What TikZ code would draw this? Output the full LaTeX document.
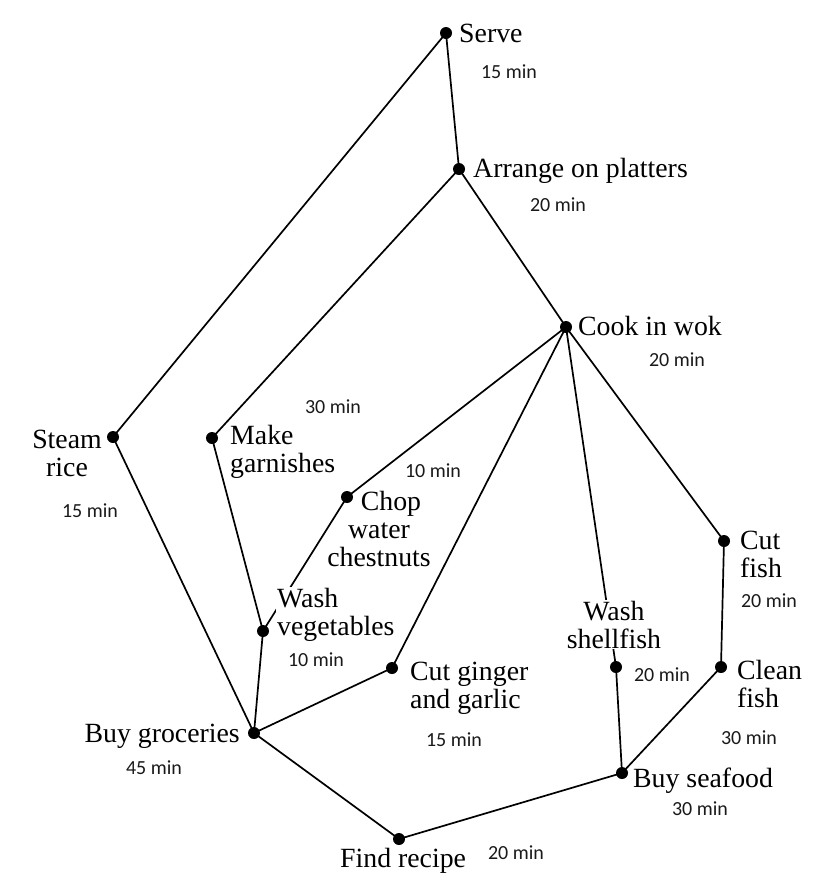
\documentclass[tikz,border=0pt]{standalone}
\usepackage{fontspec}
\setmainfont{Liberation Serif}
\newfontfamily\minfont{Carlito}
\begin{document}
\begin{tikzpicture}[x=1pt,y=-1pt,
  dot/.style={circle,fill=black,inner sep=0pt,minimum size=12pt},
  edge/.style={line width=1.7pt,black},
  lbl/.style={inner sep=0pt,font=\fontsize{27.8}{28}\selectfont},
  wlbl/.style={lbl,fill=white,inner sep=1pt},
  mins/.style={inner sep=0pt,font=\minfont\fontsize{20}{22}\selectfont,text=black!90}]
\useasboundingbox (0,0) rectangle (836,884);
% dots
\node[dot] (serve) at (446,33) {};
\node[dot] (arrange) at (459,169) {};
\node[dot] (cook) at (566,327) {};
\node[dot] (steam) at (113,437) {};
\node[dot] (garnish) at (212,438) {};
\node[dot] (chop) at (347,497) {};
\node[dot] (washveg) at (263,631) {};
\node[dot] (ginger) at (392,668) {};
\node[dot] (groceries) at (254,733) {};
\node[dot] (cutfish) at (724,541) {};
\node[dot] (cleanfish) at (721,667) {};
\node[dot] (shellfish) at (616,667) {};
\node[dot] (seafood) at (622,773) {};
\node[dot] (recipe) at (399,839) {};
% edges
\draw[edge] (serve.center) -- (arrange.center);
\draw[edge] (serve.center) -- (steam.center);
\draw[edge] (arrange.center) -- (cook.center);
\draw[edge] (arrange.center) -- (garnish.center);
\draw[edge] (cook.center) -- (chop.center);
\draw[edge] (cook.center) -- (ginger.center);
\draw[edge] (cook.center) -- (shellfish.center);
\draw[edge] (cook.center) -- (cutfish.center);
\draw[edge] (steam.center) -- (groceries.center);
\draw[edge] (garnish.center) -- (washveg.center);
\draw[edge] (chop.center) -- (washveg.center);
\draw[edge] (washveg.center) -- (groceries.center);
\draw[edge] (ginger.center) -- (groceries.center);
\draw[edge] (groceries.center) -- (recipe.center);
\draw[edge] (cutfish.center) -- (cleanfish.center);
\draw[edge] (cleanfish.center) -- (seafood.center);
\draw[edge] (shellfish.center) -- (seafood.center);
\draw[edge] (seafood.center) -- (recipe.center);
% labels (multi-line nodes: base = baseline of last line)
\node[lbl,anchor=base west] (lserve) at (459,42) {Serve};
\node[lbl,anchor=base west] (larrange) at (473,177) {Arrange on platters};
\node[lbl,anchor=base west] (lcook) at (578,335) {Cook in wok};
\node[lbl,anchor=base,align=center] (lsteam) at (67,476) {Steam\\rice};
\node[lbl,anchor=base west,align=left] (lgarnish) at (230,472) {Make\\garnishes};
\node[lbl,anchor=base,align=center] (lchop) at (379,566) {\hspace*{24pt}Chop\\water\\chestnuts};
\node[wlbl,anchor=base west,align=left] (lwashveg) at (276,635) {Wash\\vegetables};
\node[lbl,anchor=base west,align=left] (lginger) at (410,708) {Cut ginger\\and garlic};
\node[lbl,anchor=base east] (lgroceries) at (240,742) {Buy groceries};
\node[lbl,anchor=base west,align=left] (lcutfish) at (740,577) {Cut\\fish};
\node[wlbl,anchor=base,align=center] (lshellfish) at (614,648) {Wash\\shellfish};
\node[lbl,anchor=base west,align=left] (lcleanfish) at (737,707) {Clean\\fish};
\node[lbl,anchor=base west] (lseafood) at (633,787) {Buy seafood};
\node[lbl,anchor=base west] (lrecipe) at (340,867) {Find recipe};
% durations
\node[mins] (m1) at (509,72) {15 min};
\node[mins] (m2) at (558,205) {20 min};
\node[mins] (m3) at (677,360) {20 min};
\node[mins] (m4) at (333,407) {30 min};
\node[mins] (m5) at (433,471) {10 min};
\node[mins] (m6) at (90,511) {15 min};
\node[mins] (m7) at (316,660) {10 min};
\node[mins] (m8) at (454,740) {15 min};
\node[mins] (m9) at (154,768) {45 min};
\node[mins] (m10) at (662,675) {20 min};
\node[mins] (m11) at (769,601) {20 min};
\node[mins] (m12) at (749,738) {30 min};
\node[mins] (m13) at (700,809) {30 min};
\node[mins] (m14) at (516,853) {20 min};
\end{tikzpicture}
\end{document}
